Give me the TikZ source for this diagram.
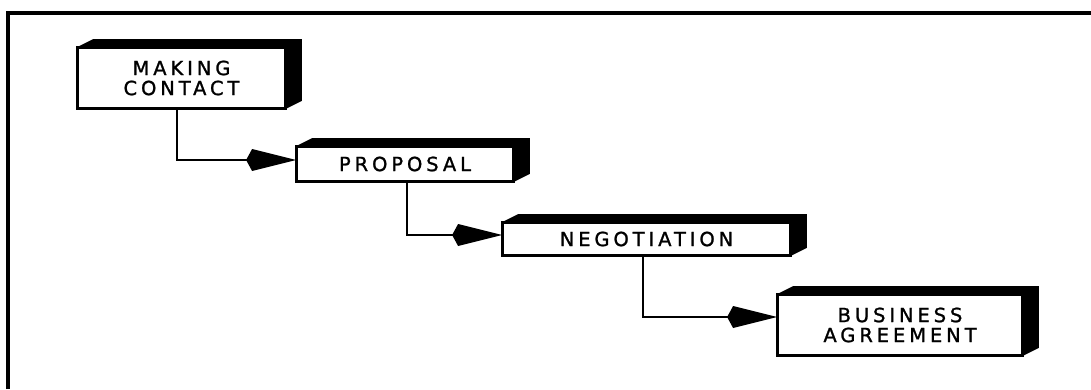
\documentclass[tikz,border=0pt]{standalone}
\usepackage{fontspec}
\usetikzlibrary{arrows.meta}
\newfontfamily\plotfont{DejaVu Sans}[LetterSpace=20,FakeBold=1.2]
\begin{document}
\begin{tikzpicture}[x=1pt,y=-1pt,
  stagebox/.style={draw, line width=1.8pt, fill=white, rectangle, inner sep=0pt,
    align=center, font=\plotfont\fontsize{19.5}{20}\selectfont},
  depthfill/.style={fill=black},
  flow/.style={line width=1.8pt, -{Kite[length=50pt,width=22pt,inset=6pt]}},
  frameline/.style={line width=3.6pt}]
\useasboundingbox (0,0) rectangle (1091,389);
\draw[frameline] (8,389) -- (8,13) -- (1091,13);

\node[stagebox, minimum width=207pt, minimum height=60pt] (mc) at (181.5,78) {MAKING\\CONTACT};
\node[stagebox, minimum width=216pt, minimum height=34pt] (pr) at (405,164) {PROPOSAL};
\node[stagebox, minimum width=287pt, minimum height=32pt] (ne) at (646.5,239) {NEGOTIATION};
\node[stagebox, minimum width=244pt, minimum height=60pt] (ba) at (900,325) {BUSINESS\\AGREEMENT};

\foreach \n in {mc,pr,ne,ba}{
  \fill[depthfill] (\n.north west) -- ++(16,-8) -- ([shift={(16,-8)}]\n.north east)
    -- ([shift={(16,-8)}]\n.south east) -- (\n.south east) -- (\n.north east) -- cycle;
  \draw[line width=1.8pt] (\n.north west) rectangle (\n.south east);
}

\coordinate (k1) at (177,160);
\coordinate (k2) at (407,235);
\coordinate (k3) at (643,317);
\draw[flow] (mc.south -| k1) |- (pr.west |- k1);
\draw[flow] (pr.south -| k2) |- (ne.west |- k2);
\draw[flow] (ne.south -| k3) |- (ba.west |- k3);
\end{tikzpicture}
\end{document}
